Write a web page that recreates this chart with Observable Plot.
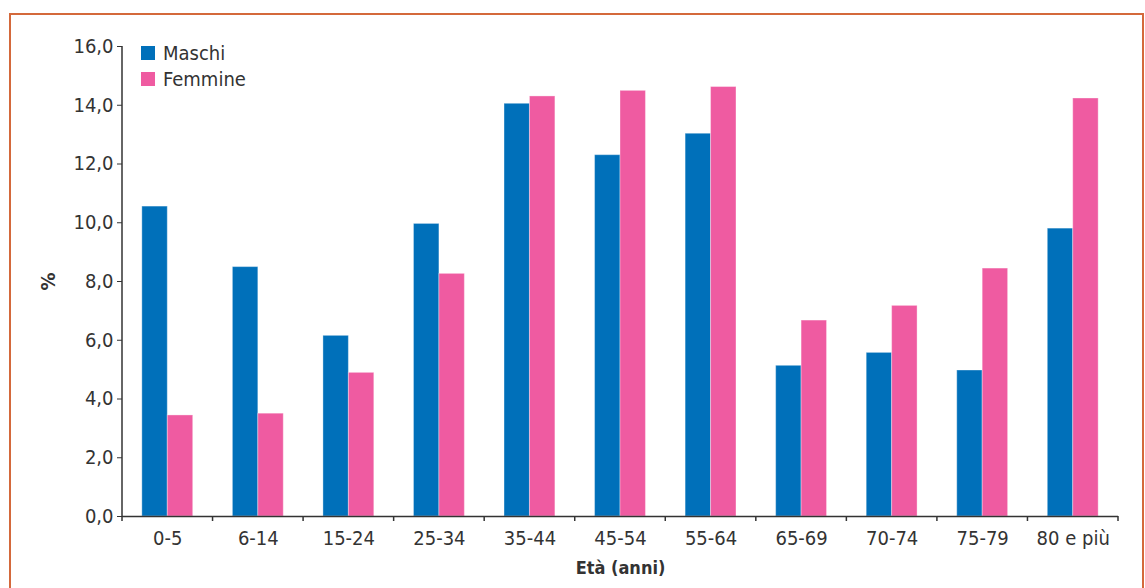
<!DOCTYPE html>
<html>
<head>
<meta charset="utf-8">
<script src="https://cdn.jsdelivr.net/npm/d3@7"></script>
<script src="https://cdn.jsdelivr.net/npm/@observablehq/plot@0.6"></script>
<style>
  html, body { margin: 0; padding: 0; background: #fff; }
  #wrap { position: relative; width: 1145px; height: 588px; overflow: hidden;
          font-family: "DejaVu Sans Condensed", "Liberation Sans", sans-serif; color: #333; }
  #border { position: absolute; left: 9px; top: 13px; width: 1135px; height: 620px;
            border: 2px solid #D4693B; border-bottom: none; box-sizing: border-box; pointer-events: none; }
  #legend { position: absolute; left: 141px; top: 40px; font-size: 20px; line-height: 26px; }
  #legend .item { display: flex; align-items: center; height: 26px; }
  #legend .sw { width: 14px; height: 14px; margin-right: 8px; }
  #chart svg [aria-label$="axis label"] text { font-weight: bold; }
  #chart svg [aria-label="fx-axis label"] text { font-size: 18px; }
</style>
</head>
<body>
<div id="wrap">
  <div id="chart"></div>
  <div id="legend"></div>
  <div id="border"></div>
</div>
<script>
const ages = ["0-5", "6-14", "15-24", "25-34", "35-44", "45-54", "55-64", "65-69", "70-74", "75-79", "80 e più"];
const maschi = [10.55, 8.49, 6.15, 9.96, 14.05, 12.30, 13.03, 5.13, 5.57, 4.97, 9.80];
const femmine = [3.44, 3.50, 4.89, 8.26, 14.30, 14.49, 14.62, 6.67, 7.17, 8.44, 14.23];
const series = ["Maschi", "Femmine"];
const colors = ["#0070BA", "#EF5BA1"];
const yTicks = [0, 2, 4, 6, 8, 10, 12, 14, 16];
const xTitle = "Età (anni)";
const yTitle = "%";

const data = ages.flatMap((a, i) => [
  {age: a, sex: series[0], value: maschi[i]},
  {age: a, sex: series[1], value: femmine[i]}
]);

const fontFamily = '"DejaVu Sans Condensed", "Liberation Sans", sans-serif';

const chart = Plot.plot({
  width: 1145,
  height: 588,
  marginLeft: 122,
  marginRight: 27,
  marginTop: 46,
  marginBottom: 72,
  style: {fontFamily, fontSize: "20px", color: "#333", background: "transparent", overflow: "visible"},
  fx: {domain: ages, padding: 0, round: false, axis: null},
  x: {domain: series, paddingInner: 0, paddingOuter: 0.78, round: false, axis: null},
  y: {domain: [0, 16], axis: null},
  color: {domain: series, range: colors},
  marks: [
    Plot.barY(data, {fx: "age", x: "sex", y: "value", fill: "sex", stroke: "#fff", strokeOpacity: 0.35, strokeWidth: 1}),
    Plot.axisY({ticks: yTicks, tickFormat: d => d.toFixed(1).replace(".", ","), tickSize: 5, tickPadding: 4,
                stroke: "#333", label: yTitle, labelAnchor: "center", labelOffset: 82, labelArrow: false}),
    Plot.axisFx({anchor: "bottom", tickSize: 0, tickPadding: 14, label: xTitle, labelAnchor: "center", labelOffset: 57}),
    Plot.ruleY([0], {stroke: "#333", strokeWidth: 1.5})
  ]
});
document.getElementById("chart").appendChild(chart);

// y-axis domain line and x-axis boundary ticks, from the plot's own scales
const fx = chart.scale("fx");
const y = chart.scale("y");
const svg = d3.select(chart);
const x0 = fx.apply(ages[0]);
const y0 = y.apply(0);
const bounds = ages.map(a => fx.apply(a)).concat([fx.apply(ages[ages.length - 1]) + fx.step]);
const g = svg.append("g").attr("stroke", "#333").attr("stroke-width", 1.5);
g.append("line").attr("x1", x0).attr("x2", x0).attr("y1", y.apply(16)).attr("y2", y0 + 0.75);
g.selectAll(".bt").data(bounds).join("line")
  .attr("x1", d => d).attr("x2", d => d).attr("y1", y0).attr("y2", y0 + 5);

// legend
const legend = d3.select("#legend");
series.forEach((s, i) => {
  const it = legend.append("div").attr("class", "item");
  it.append("div").attr("class", "sw").style("background", colors[i]);
  it.append("span").text(s);
});
</script>
</body>
</html>
